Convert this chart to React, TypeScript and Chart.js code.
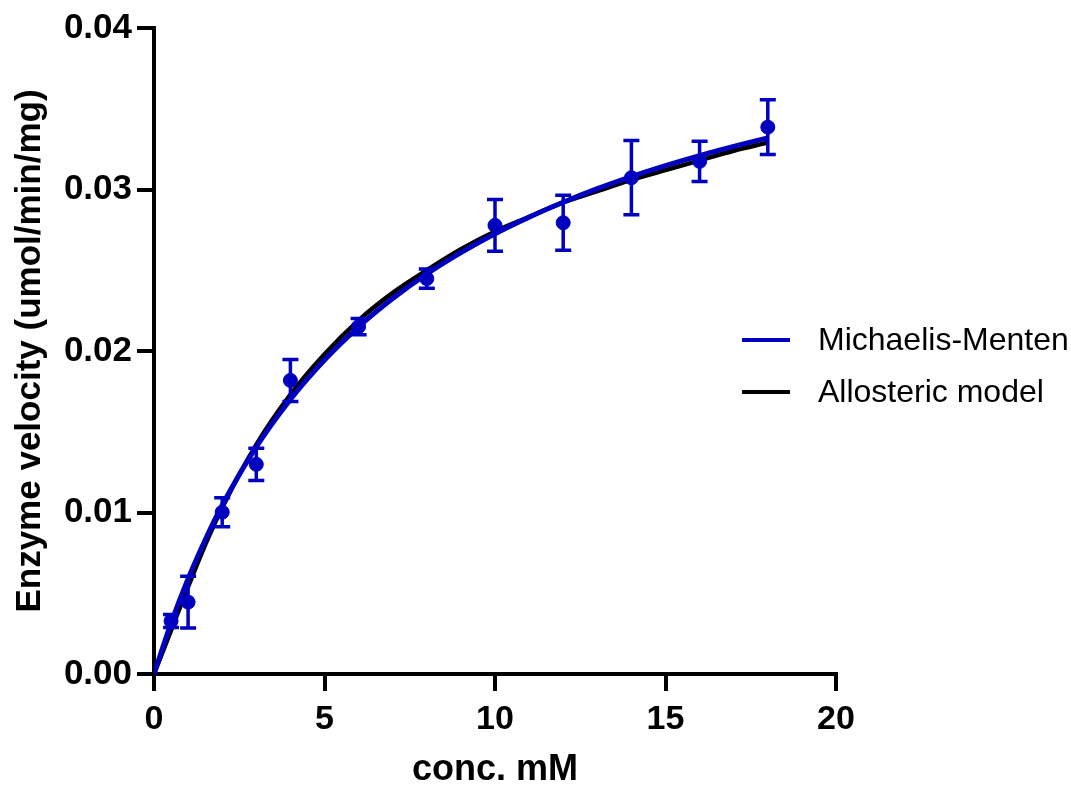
import React, { useEffect, useRef } from "react";
import { Chart, registerables } from "chart.js";

Chart.register(...registerables);

// Measured data (conc. mM vs enzyme velocity)
const concentrations = [0.5, 1, 2, 3, 4, 6, 8, 10, 12, 14, 16, 18];
const velocities = [0.00328, 0.00445, 0.01002, 0.01298, 0.01818, 0.02151, 0.02448, 0.02778, 0.02794, 0.03073, 0.03174, 0.03386];
const velocityErrors = [0.0004, 0.0016, 0.0009, 0.001, 0.0013, 0.0005, 0.0006, 0.0016, 0.0017, 0.0023, 0.00125, 0.0017];

// Fitted curves
const curveX = [0, 0.5, 1, 1.5, 2, 3, 4, 5, 6, 7, 8, 9, 10, 11, 12, 13, 14, 15, 16, 17, 18];
const mmCurve = [0, 0.00315, 0.0059, 0.0083, 0.01045, 0.01406, 0.017, 0.01944, 0.0215, 0.02325, 0.02477, 0.02609, 0.02726, 0.02829, 0.02921, 0.03005, 0.0308, 0.03148, 0.0321, 0.03267, 0.0332];
const allostericCurve = [0, 0.0027, 0.0054, 0.008, 0.0103, 0.0142, 0.0173, 0.0198, 0.0219, 0.0236, 0.025, 0.0263, 0.0274, 0.0283, 0.0292, 0.0299, 0.0306, 0.0312, 0.0318, 0.0324, 0.0329];

const seriesLabels = ["Michaelis-Menten", "Allosteric model"];
const xTicks = [0, 5, 10, 15, 20];
const yTicks = [0, 0.01, 0.02, 0.03, 0.04];

const BLUE = "#0000C0";
const FONT = "'Liberation Sans', Arial, sans-serif";

const errorBarPlugin = {
  id: "errorBars",
  afterDatasetsDraw(chart: any) {
    const { ctx, scales } = chart;
    const xs = scales.x;
    const ys = scales.y;
    ctx.save();
    ctx.strokeStyle = BLUE;
    ctx.lineWidth = 3.5;
    concentrations.forEach((c, i) => {
      const px = xs.getPixelForValue(c);
      const top = ys.getPixelForValue(velocities[i] + velocityErrors[i]);
      const bot = ys.getPixelForValue(velocities[i] - velocityErrors[i]);
      ctx.beginPath();
      ctx.moveTo(px, top);
      ctx.lineTo(px, bot);
      ctx.moveTo(px - 8, top);
      ctx.lineTo(px + 8, top);
      ctx.moveTo(px - 8, bot);
      ctx.lineTo(px + 8, bot);
      ctx.stroke();
    });
    ctx.restore();
  },
};

const legendPlugin = {
  id: "customLegend",
  afterDraw(chart: any) {
    const { ctx } = chart;
    const colors = [BLUE, "#000000"];
    ctx.save();
    ctx.font = `32px ${FONT}`;
    ctx.textBaseline = "middle";
    ctx.textAlign = "left";
    seriesLabels.forEach((label, i) => {
      const y = 340 + i * 52;
      ctx.strokeStyle = colors[i];
      ctx.lineWidth = 4;
      ctx.beginPath();
      ctx.moveTo(742, y);
      ctx.lineTo(790, y);
      ctx.stroke();
      ctx.fillStyle = "#000";
      ctx.fillText(label, 818, y + 1);
    });
    ctx.restore();
  },
};

export default function App() {
  const canvasRef = useRef<HTMLCanvasElement | null>(null);

  useEffect(() => {
    if (!canvasRef.current) return;
    const chart = new Chart(canvasRef.current, {
      type: "scatter",
      data: {
        datasets: [
          {
            label: "Data",
            data: concentrations.map((x, i) => ({ x, y: velocities[i] })),
            backgroundColor: BLUE,
            borderColor: BLUE,
            pointRadius: 7,
            showLine: false,
            order: 0,
          },
          {
            label: seriesLabels[0],
            data: curveX.map((x, i) => ({ x, y: mmCurve[i] })),
            borderColor: BLUE,
            borderWidth: 5,
            pointRadius: 0,
            showLine: true,
            cubicInterpolationMode: "monotone",
            order: 1,
          },
          {
            label: seriesLabels[1],
            data: curveX.map((x, i) => ({ x, y: allostericCurve[i] })),
            borderColor: "#000000",
            borderWidth: 4.5,
            pointRadius: 0,
            showLine: true,
            cubicInterpolationMode: "monotone",
            order: 2,
          },
        ],
      } as any,
      options: {
        animation: false,
        responsive: false,
        maintainAspectRatio: false,
        layout: { padding: { top: 28, right: 235, left: 0, bottom: 0 } },
        plugins: { legend: { display: false }, tooltip: { enabled: false } },
        scales: {
          x: {
            type: "linear",
            min: 0,
            max: 20,
            afterFit(scale: any) {
              scale.height = 111;
            },
            afterBuildTicks(scale: any) {
              scale.ticks = xTicks.map((v) => ({ value: v }));
            },
            border: { display: true, width: 4, color: "#000" },
            grid: { display: true, drawOnChartArea: false, drawTicks: true, tickLength: 17, tickWidth: 4, tickColor: "#000", lineWidth: 4, color: "#000" },
            ticks: {
              color: "#000",
              font: { family: FONT, size: 34, weight: "bold" },
              padding: 8,
              maxRotation: 0,
              callback: (v: any) => String(v),
            },
            title: {
              display: true,
              text: "conc. mM",
              color: "#000",
              font: { family: FONT, size: 36, weight: "bold", lineHeight: 0.85 },
              padding: { top: 0, bottom: 0 },
            },
          },
          y: {
            type: "linear",
            min: 0,
            max: 0.04,
            afterFit(scale: any) {
              scale.width = 154;
            },
            afterBuildTicks(scale: any) {
              scale.ticks = yTicks.map((v) => ({ value: v }));
            },
            border: { display: true, width: 4, color: "#000" },
            grid: { display: true, drawOnChartArea: false, drawTicks: true, tickLength: 17, tickWidth: 4, tickColor: "#000", lineWidth: 4, color: "#000" },
            ticks: {
              color: "#000",
              font: { family: FONT, size: 35, weight: "bold" },
              padding: 5,
              callback: (v: any) => Number(v).toFixed(2),
            },
            title: {
              display: true,
              text: "Enzyme velocity (umol/min/mg)",
              color: "#000",
              font: { family: FONT, size: 35, weight: "bold", lineHeight: 1.2 },
              padding: { top: 9, bottom: 0 },
            },
          },
        },
      } as any,
      plugins: [errorBarPlugin, legendPlugin],
    });
    return () => chart.destroy();
  }, []);

  return (
    <div style={{ position: "absolute", left: 0, top: 0, width: 1071, height: 785, background: "#fff" }}>
      <canvas ref={canvasRef} width={1071} height={785} style={{ width: 1071, height: 785, display: "block" }} />
    </div>
  );
}
